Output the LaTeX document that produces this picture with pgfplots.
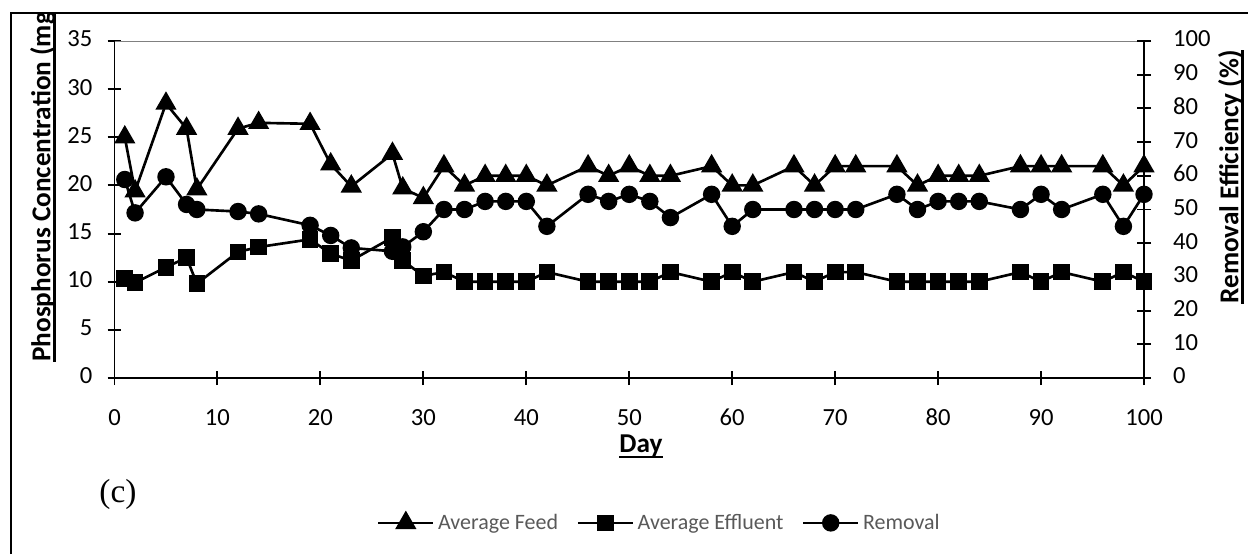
\documentclass[border=0pt]{standalone}
\usepackage{pgfplots}
\pgfplotsset{compat=1.18}
\usepackage{fontspec}
\setmainfont{Carlito}
\newfontfamily\timesfont{Liberation Serif}

% thick underline as in the spreadsheet titles
\newcommand\myul[1]{\setbox0\hbox{#1}\rlap{\rule[-3pt]{\wd0}{1.3pt}}\box0}

\pgfplotstableread{
day feed eff rem
1 25.0 10.3 58.9
2 19.4 9.9 49.0
5 28.5 11.5 59.7
7 25.9 12.5 51.5
8 19.6 9.8 50.0
12 25.9 13.1 49.4
14 26.5 13.6 48.7
19 26.4 14.4 45.3
21 22.2 12.9 42.3
23 19.9 12.2 38.6
27 23.3 14.6 37.6
28 19.7 12.2 38.9
30 18.7 10.6 43.4
32 22 11 50.0
34 20 10 50.0
36 21 10 52.4
38 21 10 52.4
40 21 10 52.4
42 20 11 45.0
46 22 10 54.5
48 21 10 52.4
50 22 10 54.5
52 21 10 52.4
54 21 11 47.6
58 22 10 54.5
60 20 11 45.0
62 20 10 50.0
66 22 11 50.0
68 20 10 50.0
70 22 11 50.0
72 22 11 50.0
76 22 10 54.5
78 20 10 50.0
80 21 10 52.4
82 21 10 52.4
84 21 10 52.4
88 22 11 50.0
90 22 10 54.5
92 22 11 50.0
96 22 10 54.5
98 20 11 45.0
100 22 10 54.5
}\datatable

\pgfplotsset{
  common/.style={
    at={(2.29cm,3.52cm)}, anchor=south west,
    width=20.59cm, height=6.74cm, scale only axis,
    xmin=0, xmax=100,
    tick align=center, major tick length=0.28cm,
    axis line style={line width=1.1pt,-},
    every tick/.style={line width=1.1pt,black},
    ticklabel style={font=\fontsize{14}{17}\selectfont},
    typeset ticklabels with strut,
    /pgf/number format/assume math mode=true,
  },
  ser/.style={black, line width=1.5pt, mark options={solid,fill=black}},
}

\begin{document}
\begin{tikzpicture}
\useasboundingbox (0,0) rectangle (24.96cm,11.08cm);

\begin{axis}[common,
  ymin=0, ymax=35,
  axis x line*=bottom, axis y line*=left,
  xtick={0,10,...,100}, ytick={0,5,...,35},
  yticklabel style={xshift=-0.18cm},
  xticklabel style={yshift=-0.27cm},
  legend columns=3,
  legend style={at={(0.53,-0.43)}, anchor=center, draw=none, fill=none,
    font=\fontsize{12.5}{15}\selectfont, text=black!65,
    /tikz/every even column/.append style={column sep=0.3cm}},
  legend image code/.code={
    \draw[mark repeat=2,mark phase=2,#1] plot coordinates {(0cm,0cm) (0.55cm,0cm) (1.1cm,0cm)};
  },
]
\draw[gray, line width=0.6pt] (rel axis cs:0,1) -- (rel axis cs:1,1);
\addplot[ser, mark=triangle*, mark size=5.5pt] table[x=day,y=feed] {\datatable};
\addlegendentry{Average Feed}
\addplot[ser, mark=square*, mark size=4pt] table[x=day,y=eff] {\datatable};
\addlegendentry{Average Effluent}
\addlegendimage{ser, mark=*, mark size=4.2pt}
\addlegendentry{Removal}
\end{axis}

\begin{axis}[common,
  ymin=0, ymax=100,
  axis x line=none, axis y line*=right,
  ytick={0,10,...,100},
  yticklabel style={xshift=0.32cm},
]
\addplot[ser, mark=*, mark size=4.2pt] table[x=day,y=rem] {\datatable};
\end{axis}

% frame
\draw[line width=0.8pt] (0.22cm,0) -- (0.22cm,10.82cm) -- (24.96cm,10.82cm);

% axis titles
\begin{scope}
\clip (0,0) rectangle (24.96cm,10.82cm);
\node[rotate=90, anchor=west, inner sep=0pt, font=\fontsize{15.5}{18}\selectfont\bfseries]
  at (0.86cm,3.84cm) {\myul{Phosphorus Concentration (mg/L)}};
\end{scope}
\node[rotate=90, anchor=east, inner sep=0pt, font=\fontsize{15.5}{18}\selectfont\bfseries]
  at (24.62cm,10.08cm) {\myul{Removal Efficiency (\%)}};
\node[inner sep=0pt, font=\fontsize{15.5}{18}\selectfont\bfseries]
  at (12.82cm,2.15cm) {\myul{Day}};
\node[inner sep=0pt, font=\fontsize{19}{22}\timesfont] at (2.36cm,1.2cm) {(c)};
\end{tikzpicture}
\end{document}
